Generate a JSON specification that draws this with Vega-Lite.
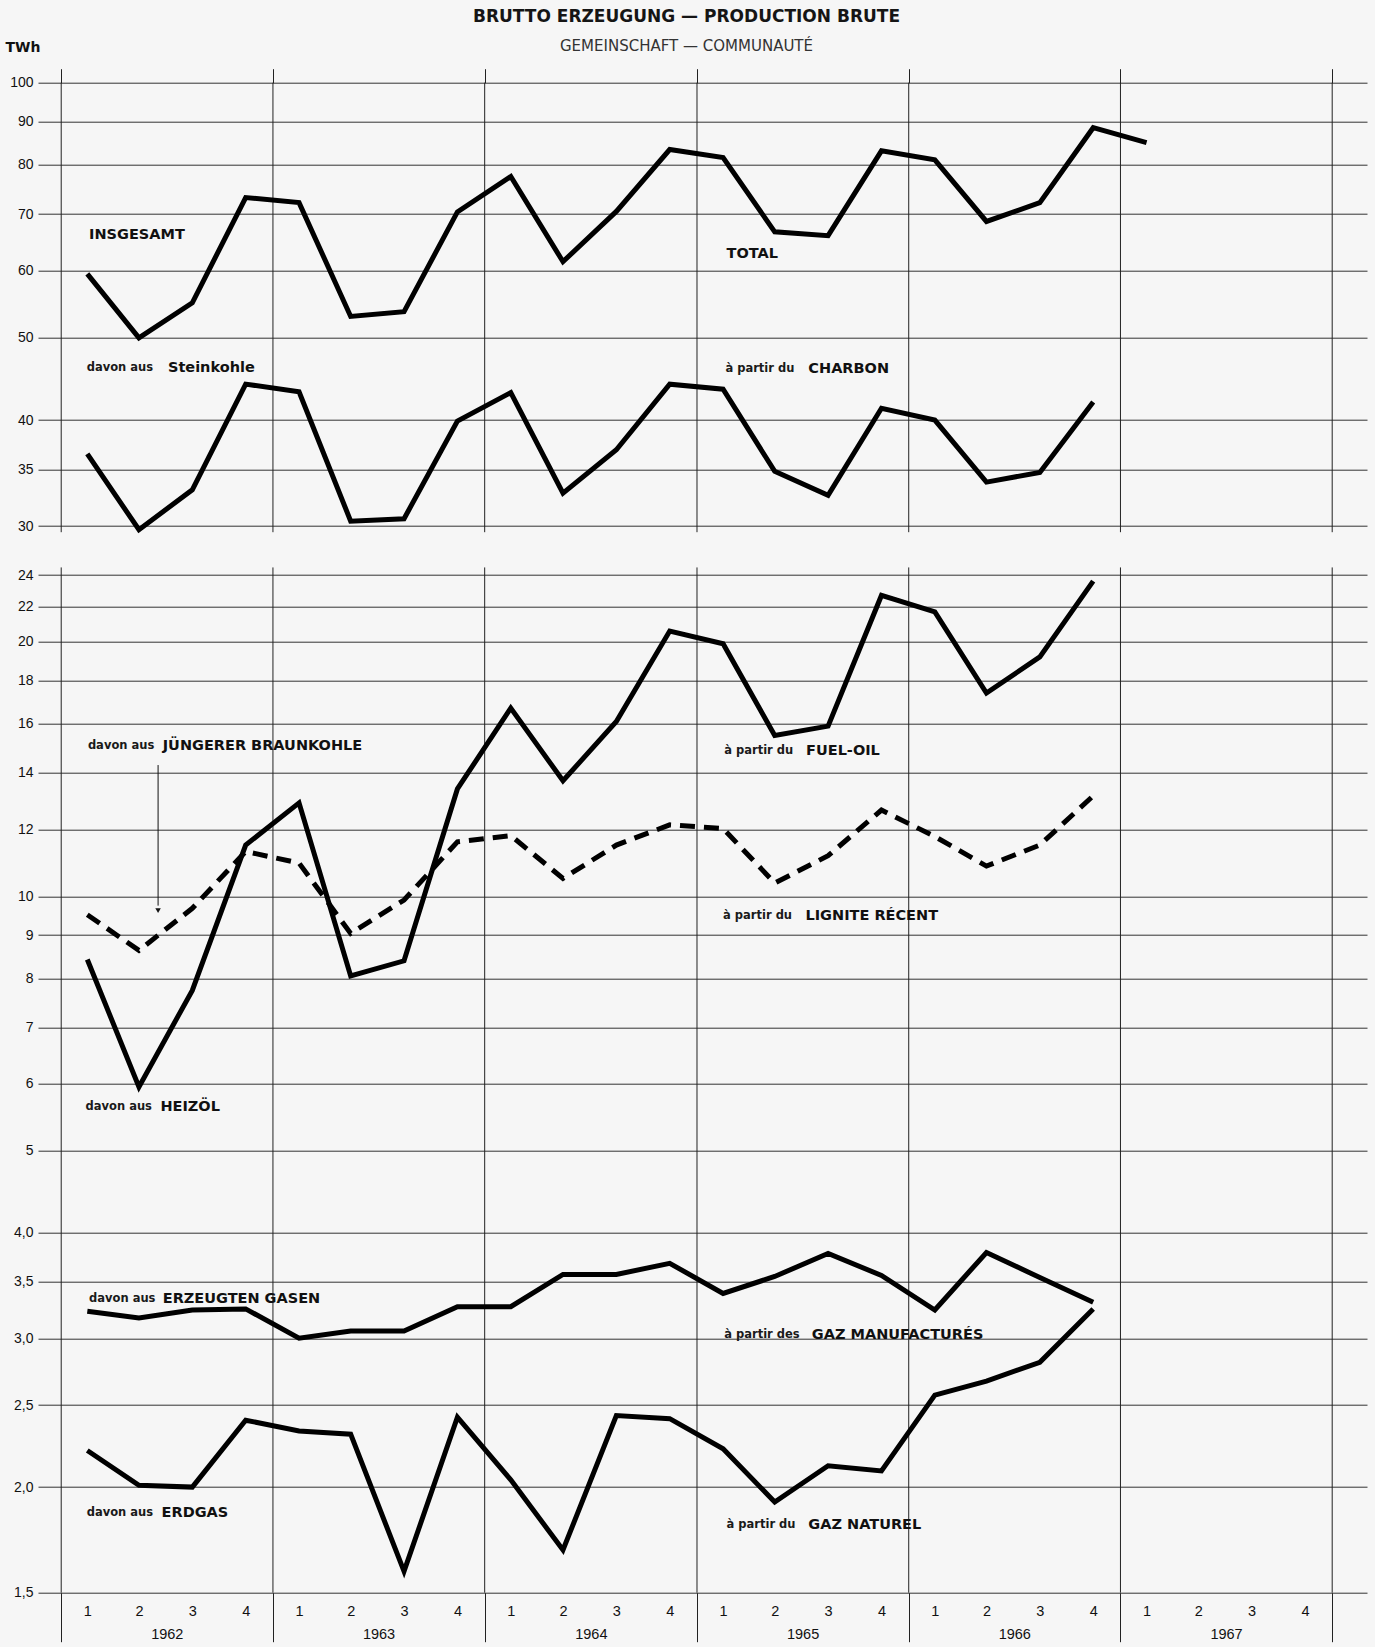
{
  "$schema": "https://vega.github.io/schema/vega-lite/v6.json",
  "width": 1329,
  "height": 1510,
  "autosize": {"type": "none"},
  "padding": {"left": 38, "top": 82.7, "right": 8, "bottom": 54.3},
  "background": "#f6f6f6",
  "config": {
    "view": {"stroke": null},
    "axis": {"domain": false, "ticks": false, "labelFont": "Liberation Sans", "labelFontSize": 14, "labelColor": "#111", "gridColor": "#333", "gridWidth": 1, "gridOpacity": 1, "labelFlush": false, "labelOverlap": false}
  },
  "title": {
    "text": "BRUTTO ERZEUGUNG — PRODUCTION BRUTE",
    "subtitle": "GEMEINSCHAFT — COMMUNAUTÉ",
    "anchor": "middle", "frame": "group", "offset": -14, "dx": -16,
    "font": "DejaVu Sans", "fontSize": 17, "fontWeight": "bold", "color": "#151515",
    "subtitleFont": "DejaVu Sans", "subtitleFontSize": 15, "subtitleFontWeight": "normal", "subtitleColor": "#333", "subtitlePadding": 13
  },
  "datasets": {
    "years": [{"d": "1962-01-01"}, {"d": "1963-01-01"}, {"d": "1964-01-01"}, {"d": "1965-01-01"}, {"d": "1966-01-01"}, {"d": "1967-01-01"}, {"d": "1968-01-01"}],
    "top": [
      {"series": "Insgesamt", "date": "1962-02-15", "value": 59.5},
      {"series": "Insgesamt", "date": "1962-05-15", "value": 50.0},
      {"series": "Insgesamt", "date": "1962-08-15", "value": 55.0},
      {"series": "Insgesamt", "date": "1962-11-15", "value": 73.2},
      {"series": "Insgesamt", "date": "1963-02-15", "value": 72.2},
      {"series": "Insgesamt", "date": "1963-05-15", "value": 53.0},
      {"series": "Insgesamt", "date": "1963-08-15", "value": 53.7},
      {"series": "Insgesamt", "date": "1963-11-15", "value": 70.4},
      {"series": "Insgesamt", "date": "1964-02-15", "value": 77.5},
      {"series": "Insgesamt", "date": "1964-05-15", "value": 61.5},
      {"series": "Insgesamt", "date": "1964-08-15", "value": 70.5},
      {"series": "Insgesamt", "date": "1964-11-15", "value": 83.4},
      {"series": "Insgesamt", "date": "1965-02-15", "value": 81.6},
      {"series": "Insgesamt", "date": "1965-05-15", "value": 66.7},
      {"series": "Insgesamt", "date": "1965-08-15", "value": 66.0},
      {"series": "Insgesamt", "date": "1965-11-15", "value": 83.1},
      {"series": "Insgesamt", "date": "1966-02-15", "value": 81.1},
      {"series": "Insgesamt", "date": "1966-05-15", "value": 68.6},
      {"series": "Insgesamt", "date": "1966-08-15", "value": 72.2},
      {"series": "Insgesamt", "date": "1966-11-15", "value": 88.5},
      {"series": "Insgesamt", "date": "1967-02-15", "value": 85.0},
      {"series": "Steinkohle", "date": "1962-02-15", "value": 36.5},
      {"series": "Steinkohle", "date": "1962-05-15", "value": 29.7},
      {"series": "Steinkohle", "date": "1962-08-15", "value": 33.1},
      {"series": "Steinkohle", "date": "1962-11-15", "value": 44.1},
      {"series": "Steinkohle", "date": "1963-02-15", "value": 43.2},
      {"series": "Steinkohle", "date": "1963-05-15", "value": 30.4},
      {"series": "Steinkohle", "date": "1963-08-15", "value": 30.6},
      {"series": "Steinkohle", "date": "1963-11-15", "value": 39.9},
      {"series": "Steinkohle", "date": "1964-02-15", "value": 43.1},
      {"series": "Steinkohle", "date": "1964-05-15", "value": 32.8},
      {"series": "Steinkohle", "date": "1964-08-15", "value": 36.9},
      {"series": "Steinkohle", "date": "1964-11-15", "value": 44.1},
      {"series": "Steinkohle", "date": "1965-02-15", "value": 43.5},
      {"series": "Steinkohle", "date": "1965-05-15", "value": 34.8},
      {"series": "Steinkohle", "date": "1965-08-15", "value": 32.6},
      {"series": "Steinkohle", "date": "1965-11-15", "value": 41.3},
      {"series": "Steinkohle", "date": "1966-02-15", "value": 40.0},
      {"series": "Steinkohle", "date": "1966-05-15", "value": 33.8},
      {"series": "Steinkohle", "date": "1966-08-15", "value": 34.7},
      {"series": "Steinkohle", "date": "1966-11-15", "value": 42.0}
    ],
    "bottom": [
      {"series": "Heizöl", "date": "1962-02-15", "value": 8.42},
      {"series": "Heizöl", "date": "1962-05-15", "value": 5.95},
      {"series": "Heizöl", "date": "1962-08-15", "value": 7.74},
      {"series": "Heizöl", "date": "1962-11-15", "value": 11.5},
      {"series": "Heizöl", "date": "1963-02-15", "value": 12.9},
      {"series": "Heizöl", "date": "1963-05-15", "value": 8.05},
      {"series": "Heizöl", "date": "1963-08-15", "value": 8.39},
      {"series": "Heizöl", "date": "1963-11-15", "value": 13.4},
      {"series": "Heizöl", "date": "1964-02-15", "value": 16.7},
      {"series": "Heizöl", "date": "1964-05-15", "value": 13.7},
      {"series": "Heizöl", "date": "1964-08-15", "value": 16.1},
      {"series": "Heizöl", "date": "1964-11-15", "value": 20.6},
      {"series": "Heizöl", "date": "1965-02-15", "value": 19.9},
      {"series": "Heizöl", "date": "1965-05-15", "value": 15.5},
      {"series": "Heizöl", "date": "1965-08-15", "value": 15.9},
      {"series": "Heizöl", "date": "1965-11-15", "value": 22.7},
      {"series": "Heizöl", "date": "1966-02-15", "value": 21.7},
      {"series": "Heizöl", "date": "1966-05-15", "value": 17.4},
      {"series": "Heizöl", "date": "1966-08-15", "value": 19.2},
      {"series": "Heizöl", "date": "1966-11-15", "value": 23.6},
      {"series": "Erzeugte Gase", "date": "1962-02-15", "value": 3.23},
      {"series": "Erzeugte Gase", "date": "1962-05-15", "value": 3.17},
      {"series": "Erzeugte Gase", "date": "1962-08-15", "value": 3.24},
      {"series": "Erzeugte Gase", "date": "1962-11-15", "value": 3.25},
      {"series": "Erzeugte Gase", "date": "1963-02-15", "value": 3.0},
      {"series": "Erzeugte Gase", "date": "1963-05-15", "value": 3.06},
      {"series": "Erzeugte Gase", "date": "1963-08-15", "value": 3.06},
      {"series": "Erzeugte Gase", "date": "1963-11-15", "value": 3.27},
      {"series": "Erzeugte Gase", "date": "1964-02-15", "value": 3.27},
      {"series": "Erzeugte Gase", "date": "1964-05-15", "value": 3.57},
      {"series": "Erzeugte Gase", "date": "1964-08-15", "value": 3.57},
      {"series": "Erzeugte Gase", "date": "1964-11-15", "value": 3.68},
      {"series": "Erzeugte Gase", "date": "1965-02-15", "value": 3.39},
      {"series": "Erzeugte Gase", "date": "1965-05-15", "value": 3.55},
      {"series": "Erzeugte Gase", "date": "1965-08-15", "value": 3.78},
      {"series": "Erzeugte Gase", "date": "1965-11-15", "value": 3.56},
      {"series": "Erzeugte Gase", "date": "1966-02-15", "value": 3.24},
      {"series": "Erzeugte Gase", "date": "1966-05-15", "value": 3.79},
      {"series": "Erzeugte Gase", "date": "1966-08-15", "value": 3.54},
      {"series": "Erzeugte Gase", "date": "1966-11-15", "value": 3.31},
      {"series": "Erdgas", "date": "1962-02-15", "value": 2.21},
      {"series": "Erdgas", "date": "1962-05-15", "value": 2.01},
      {"series": "Erdgas", "date": "1962-08-15", "value": 2.0},
      {"series": "Erdgas", "date": "1962-11-15", "value": 2.4},
      {"series": "Erdgas", "date": "1963-02-15", "value": 2.33},
      {"series": "Erdgas", "date": "1963-05-15", "value": 2.31},
      {"series": "Erdgas", "date": "1963-08-15", "value": 1.59},
      {"series": "Erdgas", "date": "1963-11-15", "value": 2.42},
      {"series": "Erdgas", "date": "1964-02-15", "value": 2.04},
      {"series": "Erdgas", "date": "1964-05-15", "value": 1.685},
      {"series": "Erdgas", "date": "1964-08-15", "value": 2.43},
      {"series": "Erdgas", "date": "1964-11-15", "value": 2.41},
      {"series": "Erdgas", "date": "1965-02-15", "value": 2.22},
      {"series": "Erdgas", "date": "1965-05-15", "value": 1.92},
      {"series": "Erdgas", "date": "1965-08-15", "value": 2.12},
      {"series": "Erdgas", "date": "1965-11-15", "value": 2.09},
      {"series": "Erdgas", "date": "1966-02-15", "value": 2.57},
      {"series": "Erdgas", "date": "1966-05-15", "value": 2.67},
      {"series": "Erdgas", "date": "1966-08-15", "value": 2.81},
      {"series": "Erdgas", "date": "1966-11-15", "value": 3.25}
    ],
    "lignite": [
      {"series": "Jüngere Braunkohle", "date": "1962-02-15", "value": 9.51},
      {"series": "Jüngere Braunkohle", "date": "1962-05-15", "value": 8.63},
      {"series": "Jüngere Braunkohle", "date": "1962-08-15", "value": 9.68},
      {"series": "Jüngere Braunkohle", "date": "1962-11-15", "value": 11.3},
      {"series": "Jüngere Braunkohle", "date": "1963-02-15", "value": 10.95},
      {"series": "Jüngere Braunkohle", "date": "1963-05-15", "value": 9.04},
      {"series": "Jüngere Braunkohle", "date": "1963-08-15", "value": 9.9},
      {"series": "Jüngere Braunkohle", "date": "1963-11-15", "value": 11.6},
      {"series": "Jüngere Braunkohle", "date": "1964-02-15", "value": 11.8},
      {"series": "Jüngere Braunkohle", "date": "1964-05-15", "value": 10.5},
      {"series": "Jüngere Braunkohle", "date": "1964-08-15", "value": 11.5},
      {"series": "Jüngere Braunkohle", "date": "1964-11-15", "value": 12.15},
      {"series": "Jüngere Braunkohle", "date": "1965-02-15", "value": 12.03},
      {"series": "Jüngere Braunkohle", "date": "1965-05-15", "value": 10.37},
      {"series": "Jüngere Braunkohle", "date": "1965-08-15", "value": 11.17},
      {"series": "Jüngere Braunkohle", "date": "1965-11-15", "value": 12.65},
      {"series": "Jüngere Braunkohle", "date": "1966-02-15", "value": 11.77},
      {"series": "Jüngere Braunkohle", "date": "1966-05-15", "value": 10.86},
      {"series": "Jüngere Braunkohle", "date": "1966-08-15", "value": 11.5},
      {"series": "Jüngere Braunkohle", "date": "1966-11-15", "value": 13.15}
    ],
    "namesTop": [
      {"date": "1962-02-18", "value": 66.1, "text": "INSGESAMT"},
      {"date": "1965-02-21", "value": 62.8, "text": "TOTAL"},
      {"date": "1962-07-04", "value": 46.1, "text": "Steinkohle"},
      {"date": "1965-07-12", "value": 45.9, "text": "CHARBON"}
    ],
    "prefixTop": [
      {"date": "1962-02-14", "value": 46.1, "text": "davon aus"},
      {"date": "1965-02-19", "value": 45.9, "text": "à partir du"}
    ],
    "namesBottom": [
      {"date": "1962-06-25", "value": 15.05, "text": "JÜNGERER BRAUNKOHLE"},
      {"date": "1962-06-21", "value": 5.63, "text": "HEIZÖL"},
      {"date": "1965-07-08", "value": 14.86, "text": "FUEL-OIL"},
      {"date": "1965-07-07", "value": 9.49, "text": "LIGNITE RÉCENT"},
      {"date": "1962-06-25", "value": 3.34, "text": "ERZEUGTEN GASEN"},
      {"date": "1962-06-23", "value": 1.866, "text": "ERDGAS"},
      {"date": "1965-07-18", "value": 3.03, "text": "GAZ MANUFACTURÉS"},
      {"date": "1965-07-12", "value": 1.804, "text": "GAZ NATUREL"}
    ],
    "prefixBottom": [
      {"date": "1962-02-16", "value": 15.05, "text": "davon aus"},
      {"date": "1962-02-12", "value": 5.63, "text": "davon aus"},
      {"date": "1965-02-17", "value": 14.86, "text": "à partir du"},
      {"date": "1965-02-15", "value": 9.49, "text": "à partir du"},
      {"date": "1962-02-18", "value": 3.34, "text": "davon aus"},
      {"date": "1962-02-14", "value": 1.866, "text": "davon aus"},
      {"date": "1965-02-17", "value": 3.03, "text": "à partir des"},
      {"date": "1965-02-21", "value": 1.804, "text": "à partir du"}
    ],
    "arrow": [{"date": "1962-06-17", "from": 14.3, "to": 9.75, "tip": 9.62}]
  },
  "layer": [
    {
      "layer": [
        {
          "data": {"name": "years"},
          "mark": {"type": "rule", "color": "#222", "strokeWidth": 1},
          "encoding": {
            "x": {"field": "d", "type": "temporal", "scale": {"domain": [{"year": 1961, "month": 11, "date": 22}, {"year": 1968, "month": 3, "date": 1}]},
              "axis": {"orient": "top", "values": [{"year": 1962, "month": 1, "date": 1}, {"year": 1963, "month": 1, "date": 1}, {"year": 1964, "month": 1, "date": 1}, {"year": 1965, "month": 1, "date": 1}, {"year": 1966, "month": 1, "date": 1}, {"year": 1967, "month": 1, "date": 1}, {"year": 1968, "month": 1, "date": 1}], "ticks": true, "tickSize": 14, "tickColor": "#222", "tickWidth": 1, "labels": false, "grid": false, "title": null}},
            "y": {"datum": 100, "type": "quantitative", "axis": null},
            "y2": {"datum": 29.5}
          }
        },
        {
          "data": {"name": "top"},
          "mark": {"type": "line", "color": "#000", "strokeWidth": 5, "strokeJoin": "miter"},
          "encoding": {
            "x": {"field": "date", "type": "temporal", "scale": {"domain": [{"year": 1961, "month": 11, "date": 22}, {"year": 1968, "month": 3, "date": 1}]}, "axis": null},
            "y": {"field": "value", "type": "quantitative", "scale": {"type": "log", "domain": [30, 100], "range": [443.3, 0], "nice": false},
              "axis": {"orient": "left", "values": [30, 35, 40, 50, 60, 70, 80, 90, 100], "format": "d", "grid": true, "labelPadding": 5,
                "title": "TWh", "titleAngle": 0, "titleX": -33, "titleY": -35, "titleAlign": "left", "titleBaseline": "middle", "titleFont": "DejaVu Sans", "titleFontSize": 14, "titleFontWeight": "bold", "titleColor": "#111"}},
            "detail": {"field": "series"}
          }
        },
        {
          "data": {"name": "prefixTop"},
          "mark": {"type": "text", "align": "left", "baseline": "middle", "font": "DejaVu Sans", "fontSize": 11.5, "fontWeight": "bold", "color": "#1a1a1a"},
          "encoding": {
            "x": {"field": "date", "type": "temporal", "axis": null},
            "y": {"field": "value", "type": "quantitative", "axis": null},
            "text": {"field": "text"}
          }
        },
        {
          "data": {"name": "namesTop"},
          "mark": {"type": "text", "align": "left", "baseline": "middle", "font": "DejaVu Sans", "fontSize": 14.5, "fontWeight": "bold", "color": "#111"},
          "encoding": {
            "x": {"field": "date", "type": "temporal", "axis": null},
            "y": {"field": "value", "type": "quantitative", "axis": null},
            "text": {"field": "text"}
          }
        }
      ],
      "resolve": {"axis": {"x": "independent", "y": "independent"}}
    },
    {
      "layer": [
        {
          "data": {"name": "years"},
          "mark": {"type": "rule", "color": "#222", "strokeWidth": 1},
          "encoding": {
            "x": {"field": "d", "type": "temporal", "scale": {"domain": [{"year": 1961, "month": 11, "date": 22}, {"year": 1968, "month": 3, "date": 1}]},
              "axis": {"orient": "bottom", "values": [{"year": 1962, "month": 1, "date": 1}, {"year": 1963, "month": 1, "date": 1}, {"year": 1964, "month": 1, "date": 1}, {"year": 1965, "month": 1, "date": 1}, {"year": 1966, "month": 1, "date": 1}, {"year": 1967, "month": 1, "date": 1}, {"year": 1968, "month": 1, "date": 1}], "ticks": true, "tickSize": 49, "tickColor": "#222", "tickWidth": 1, "labels": false, "grid": false, "title": null}},
            "y": {"datum": 24.5, "type": "quantitative", "axis": null},
            "y2": {"datum": 1.5}
          }
        },
        {
          "data": {"name": "bottom"},
          "mark": {"type": "line", "color": "#000", "strokeWidth": 5, "strokeJoin": "miter"},
          "encoding": {
            "x": {"field": "date", "type": "temporal", "scale": {"domain": [{"year": 1961, "month": 11, "date": 22}, {"year": 1968, "month": 3, "date": 1}]},
              "axis": {"orient": "bottom", "values": [
                {"year": 1962, "month": 2, "date": 15}, {"year": 1962, "month": 5, "date": 15}, {"year": 1962, "month": 8, "date": 15}, {"year": 1962, "month": 11, "date": 15},
                {"year": 1963, "month": 2, "date": 15}, {"year": 1963, "month": 5, "date": 15}, {"year": 1963, "month": 8, "date": 15}, {"year": 1963, "month": 11, "date": 15},
                {"year": 1964, "month": 2, "date": 15}, {"year": 1964, "month": 5, "date": 15}, {"year": 1964, "month": 8, "date": 15}, {"year": 1964, "month": 11, "date": 15},
                {"year": 1965, "month": 2, "date": 15}, {"year": 1965, "month": 5, "date": 15}, {"year": 1965, "month": 8, "date": 15}, {"year": 1965, "month": 11, "date": 15},
                {"year": 1966, "month": 2, "date": 15}, {"year": 1966, "month": 5, "date": 15}, {"year": 1966, "month": 8, "date": 15}, {"year": 1966, "month": 11, "date": 15},
                {"year": 1967, "month": 2, "date": 15}, {"year": 1967, "month": 5, "date": 15}, {"year": 1967, "month": 8, "date": 15}, {"year": 1967, "month": 11, "date": 15}],
                "labelExpr": "floor(month(datum.value)/3)+1", "grid": false, "labelPadding": 12, "labelFontSize": 14.5, "labelAlign": "center", "labelBaseline": "top", "title": null}},
            "y": {"field": "value", "type": "quantitative", "scale": {"type": "log", "domain": [1.5, 24], "range": [1510, 492.3], "nice": false},
              "axis": {"orient": "left", "values": [1.5, 2, 2.5, 3, 3.5, 4, 5, 6, 7, 8, 9, 10, 12, 14, 16, 18, 20, 22, 24],
                "labelExpr": "datum.value >= 5 ? format(datum.value, 'd') : replace(format(datum.value, '.1f'), '.', ',')", "grid": true, "labelPadding": 5, "title": null}},
            "detail": {"field": "series"}
          }
        },
        {
          "data": {"name": "lignite"},
          "mark": {"type": "line", "color": "#000", "strokeWidth": 5, "strokeDash": [15, 9], "strokeJoin": "miter"},
          "encoding": {
            "x": {"field": "date", "type": "temporal", "scale": {"domain": [{"year": 1961, "month": 11, "date": 22}, {"year": 1968, "month": 3, "date": 1}]},
              "axis": {"orient": "bottom", "values": [{"year": 1962, "month": 7, "date": 2}, {"year": 1963, "month": 7, "date": 2}, {"year": 1964, "month": 7, "date": 2}, {"year": 1965, "month": 7, "date": 2}, {"year": 1966, "month": 7, "date": 2}, {"year": 1967, "month": 7, "date": 2}],
                "format": "%Y", "grid": false, "labelPadding": 35, "labelFontSize": 14.5, "labelAlign": "center", "labelBaseline": "top", "title": null}},
            "y": {"field": "value", "type": "quantitative", "axis": null},
            "detail": {"field": "series"}
          }
        },
        {
          "data": {"name": "arrow"},
          "mark": {"type": "rule", "color": "#111", "strokeWidth": 1},
          "encoding": {
            "x": {"field": "date", "type": "temporal", "axis": null},
            "y": {"field": "from", "type": "quantitative", "axis": null},
            "y2": {"field": "to"}
          }
        },
        {
          "data": {"name": "arrow"},
          "mark": {"type": "point", "shape": "triangle-down", "filled": true, "color": "#111", "size": 30, "opacity": 1},
          "encoding": {
            "x": {"field": "date", "type": "temporal", "axis": null},
            "y": {"field": "tip", "type": "quantitative", "axis": null}
          }
        },
        {
          "data": {"name": "prefixBottom"},
          "mark": {"type": "text", "align": "left", "baseline": "middle", "font": "DejaVu Sans", "fontSize": 11.5, "fontWeight": "bold", "color": "#1a1a1a"},
          "encoding": {
            "x": {"field": "date", "type": "temporal", "axis": null},
            "y": {"field": "value", "type": "quantitative", "axis": null},
            "text": {"field": "text"}
          }
        },
        {
          "data": {"name": "namesBottom"},
          "mark": {"type": "text", "align": "left", "baseline": "middle", "font": "DejaVu Sans", "fontSize": 14.5, "fontWeight": "bold", "color": "#111"},
          "encoding": {
            "x": {"field": "date", "type": "temporal", "axis": null},
            "y": {"field": "value", "type": "quantitative", "axis": null},
            "text": {"field": "text"}
          }
        }
      ],
      "resolve": {"axis": {"x": "independent", "y": "independent"}}
    }
  ],
  "resolve": {"scale": {"y": "independent"}, "axis": {"x": "independent", "y": "independent"}}
}
